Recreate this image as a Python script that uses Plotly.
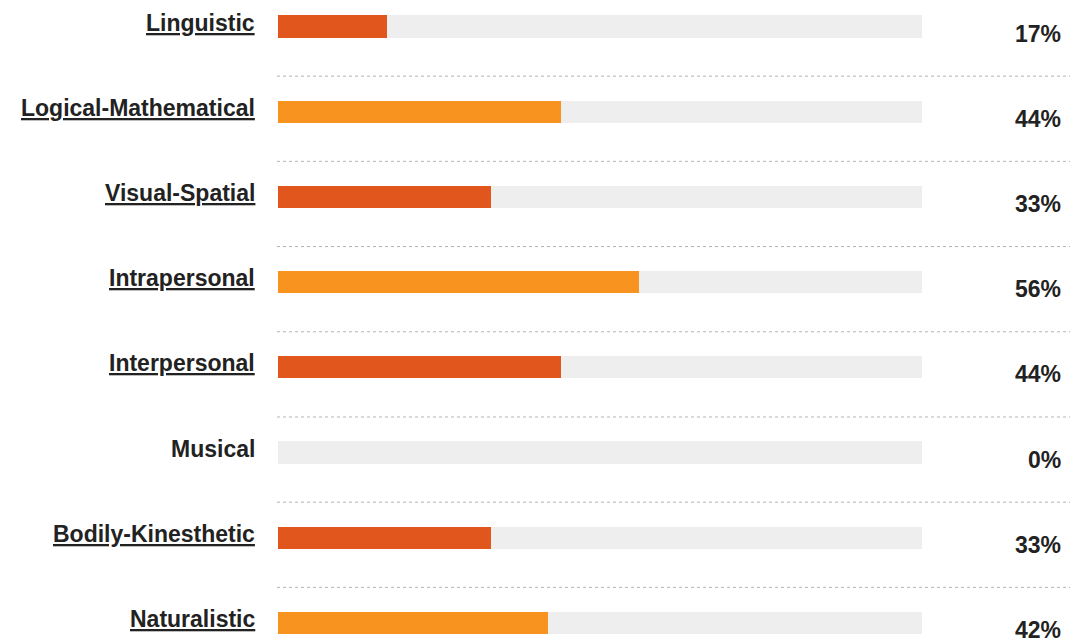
import plotly.graph_objects as go

categories = ["Linguistic", "Logical-Mathematical", "Visual-Spatial", "Intrapersonal",
              "Interpersonal", "Musical", "Bodily-Kinesthetic", "Naturalistic"]
values = [17, 44, 33, 56, 44, 0, 33, 42]
linked = [True, True, True, True, True, False, True, True]
bar_colors = ["#E0561C", "#F7931E", "#E0561C", "#F7931E", "#E0561C", "#E0561C", "#E0561C", "#F7931E"]
track_max = 100

W, H = 1070, 639
step = 85.2
c0 = 26.5
y_top = -c0 / step
y_bot = (H - c0) / step

idx = list(range(len(categories)))

fig = go.Figure()
fig.add_trace(go.Bar(
    y=idx, x=[track_max] * len(categories), orientation="h",
    marker=dict(color="#EEEEEE", line=dict(width=0)), width=0.26,
    hoverinfo="skip", showlegend=False))
fig.add_trace(go.Bar(
    y=idx, x=values, orientation="h",
    marker=dict(color=bar_colors, line=dict(width=0)), width=0.26,
    showlegend=False))

font_txt = dict(family="Liberation Sans, Arial, sans-serif", size=23, color="#222222")

annotations = []
for i, (cat, v, lk) in enumerate(zip(categories, values, linked)):
    label = f"<b><u>{cat}</u></b>" if lk else f"<b>{cat}</b>"
    annotations.append(dict(x=257 / W, xref="paper", y=i, yref="y", text=label,
                            showarrow=False, xanchor="right", yanchor="middle",
                            yshift=4, font=font_txt))
    annotations.append(dict(x=1063 / W, xref="paper", y=i, yref="y", text=f"<b>{v}%</b>",
                            showarrow=False, xanchor="right", yanchor="middle",
                            yshift=-7, font=font_txt))

shapes = []
for i in range(len(categories) - 1):
    shapes.append(dict(type="line", xref="paper", yref="y",
                       x0=277 / W, x1=1, y0=i + 0.583, y1=i + 0.583,
                       line=dict(color="#B4B4B4", width=1, dash="dot")))

fig.update_layout(
    width=W, height=H, barmode="overlay", bargap=0,
    margin=dict(l=0, r=0, t=0, b=0),
    paper_bgcolor="white", plot_bgcolor="white",
    xaxis=dict(domain=[278 / W, 922 / W], range=[0, track_max], visible=False, fixedrange=True),
    yaxis=dict(range=[y_bot, y_top], visible=False, fixedrange=True),
    annotations=annotations, shapes=shapes,
)

fig.write_html("out.html", config={"displayModeBar": False},
               post_script="document.body.style.margin='0';document.body.style.overflow='hidden';")
